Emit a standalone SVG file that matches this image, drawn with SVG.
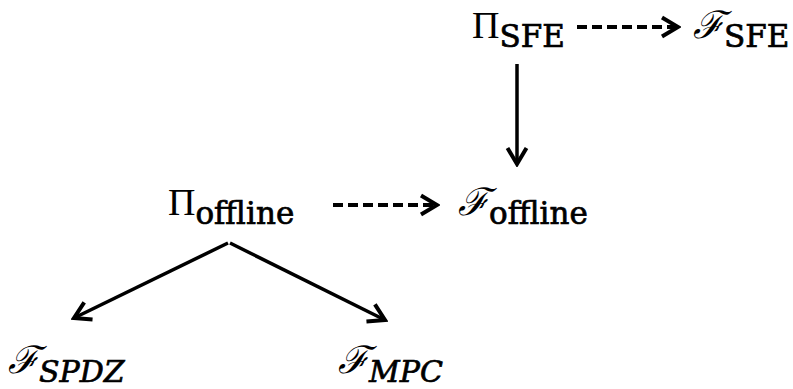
<svg xmlns="http://www.w3.org/2000/svg" width="793" height="389" viewBox="0 0 793 389">
<defs>
<marker id="chev" viewBox="0 0 24 24" refX="21" refY="12" markerWidth="24" markerHeight="24" markerUnits="userSpaceOnUse" orient="auto">
<path d="M5,2.5 L21,12 L5,21.5" fill="none" stroke="#000" stroke-width="4"/>
</marker>
</defs>
<style>
.t{font-family:"Liberation Serif","DejaVu Serif",serif;fill:#000}
.big{font-size:38px}
.sub{font-size:31px;font-family:"DejaVu Serif","Liberation Serif",serif;stroke:#000;stroke-width:0.7}
.subi{font-size:30px;font-style:italic;font-family:"DejaVu Serif","Liberation Serif",serif;stroke:#000;stroke-width:0.7}
.scr{font-size:38px;font-style:italic;font-family:"DejaVu Serif",serif}
.c{stroke:#000;stroke-width:3.5;fill:none}
.d{stroke-dasharray:10,5;stroke-width:4}
</style>
<g id="connectors">
<path class="c d" d="M577,27 L678,27" marker-end="url(#chev)"/>
<path class="c" d="M517,64 L517,164" marker-end="url(#chev)"/>
<path class="c d" d="M333,205 L437,205" marker-end="url(#chev)"/>
<path class="c" d="M228,243 L74,318" marker-end="url(#chev)"/>
<path class="c" d="M230,243 L385,320" marker-end="url(#chev)"/>
</g>
<g id="pi_sfe"><text class="t" x="472" y="38"><tspan class="big">Π</tspan><tspan class="sub" dy="9">SFE</tspan></text></g>
<g id="f_sfe"><text class="t" x="693" y="38"><tspan class="scr">ℱ</tspan><tspan class="sub" dy="9">SFE</tspan></text></g>
<g id="pi_offline"><text class="t" x="168" y="215"><tspan class="big">Π</tspan><tspan class="sub" dy="9">offline</tspan></text></g>
<g id="f_offline"><text class="t" x="458" y="215"><tspan class="scr">ℱ</tspan><tspan class="sub" dy="9">offline</tspan></text></g>
<g id="f_spdz"><text class="t" x="8" y="373"><tspan class="scr">ℱ</tspan><tspan class="subi" dy="9">SPDZ</tspan></text></g>
<g id="f_mpc"><text class="t" x="338" y="373"><tspan class="scr">ℱ</tspan><tspan class="subi" dy="9">MPC</tspan></text></g>
</svg>
